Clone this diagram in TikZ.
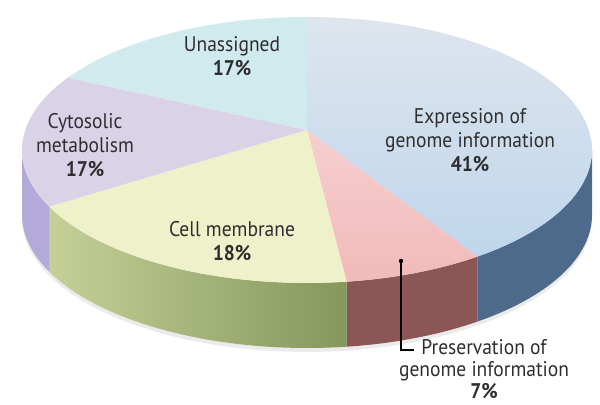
\documentclass[tikz,border=0pt]{standalone}
\usepackage{fontspec}
\setmainfont{PT Sans}
\usetikzlibrary{calc}
\definecolor{exprtop}{HTML}{BFD6EC}
\definecolor{exprhi}{HTML}{DEE5EE}
\definecolor{exprside}{HTML}{4E6A8A}
\definecolor{prestop}{HTML}{F2BABA}
\definecolor{presside}{HTML}{8C5656}
\definecolor{celltop}{HTML}{EEF1CA}
\definecolor{cellsideL}{HTML}{C4D097}
\definecolor{cellsideR}{HTML}{85975B}
\definecolor{cytotop}{HTML}{DAD3E8}
\definecolor{cytoside}{HTML}{B3AAD9}
\definecolor{unastop}{HTML}{D1EAEE}
\definecolor{labelgray}{HTML}{2E2E2E}

\begin{document}
\begin{tikzpicture}[x=0.5pt,y=-0.5pt,
  lbl/.style={align=center,text=labelgray,xscale=0.92,font=\fontsize{10.6}{12}\selectfont}]
\useasboundingbox (0,0) rectangle (600,405);
\def\pcx{307} \def\pcy{150} \def\prx{285} \def\pry{133} \def\pdp{65}
\coordinate (A) at (307,130);
% shadow
\fill[black!8] plot[domain=-5:185,samples=50] ({\pcx+\prx*cos(\x)},{\pcy+\pdp+4+\pry*sin(\x)}) -- cycle;
% sides
\fill[exprside] plot[domain=0:53.3,samples=30] ({\pcx+\prx*cos(\x)},{\pcy+\pry*sin(\x)})
  -- plot[domain=53.3:0,samples=30] ({\pcx+\prx*cos(\x)},{\pcy+\pdp+\pry*sin(\x)}) -- cycle;
\fill[presside] plot[domain=53.3:82,samples=20] ({\pcx+\prx*cos(\x)},{\pcy+\pry*sin(\x)})
  -- plot[domain=82:53.3,samples=20] ({\pcx+\prx*cos(\x)},{\pcy+\pdp+\pry*sin(\x)}) -- cycle;
\shade[left color=cellsideL,right color=cellsideR] plot[domain=82:154.8,samples=40] ({\pcx+\prx*cos(\x)},{\pcy+\pry*sin(\x)})
  -- plot[domain=154.8:82,samples=40] ({\pcx+\prx*cos(\x)},{\pcy+\pdp+\pry*sin(\x)}) -- cycle;
\fill[cytoside] plot[domain=154.8:180,samples=20] ({\pcx+\prx*cos(\x)},{\pcy+\pry*sin(\x)})
  -- plot[domain=180:154.8,samples=20] ({\pcx+\prx*cos(\x)},{\pcy+\pdp+\pry*sin(\x)}) -- cycle;
% top slices
\shade[top color=exprhi,bottom color=exprtop] (A) -- plot[domain=-90:53.3,samples=60] ({\pcx+\prx*cos(\x)},{\pcy+\pry*sin(\x)}) -- cycle;
\shade[top color=prestop!70!white,bottom color=prestop] (A) -- plot[domain=53.3:82,samples=20] ({\pcx+\prx*cos(\x)},{\pcy+\pry*sin(\x)}) -- cycle;
\fill[celltop] (A) -- plot[domain=82:154.8,samples=40] ({\pcx+\prx*cos(\x)},{\pcy+\pry*sin(\x)}) -- cycle;
\fill[cytotop] (A) -- plot[domain=154.8:213,samples=30] ({\pcx+\prx*cos(\x)},{\pcy+\pry*sin(\x)}) -- cycle;
\fill[unastop] (A) -- plot[domain=213:270,samples=30] ({\pcx+\prx*cos(\x)},{\pcy+\pry*sin(\x)}) -- cycle;
% labels
\node[lbl] (unas) at (232,56) {Unassigned\\\textbf{17\%}};
\node[lbl] (cyto) at (85,145) {Cytosolic\\metabolism\\\textbf{17\%}};
\node[lbl] (expr) at (470,140) {Expression of\\genome information\\\textbf{41\%}};
\node[lbl] (cell) at (232,241) {Cell membrane\\\textbf{18\%}};
\node[lbl,font=\fontsize{10.6}{11}\selectfont] (pres) at (484,369) {Preservation of\\genome information\\\textbf{7\%}};
\coordinate (dot) at (401,261);
\coordinate (bend) at (414,350);
\fill (dot) circle (1.1pt);
\draw[line width=0.6pt] (dot) |- (bend);
\end{tikzpicture}
\end{document}
